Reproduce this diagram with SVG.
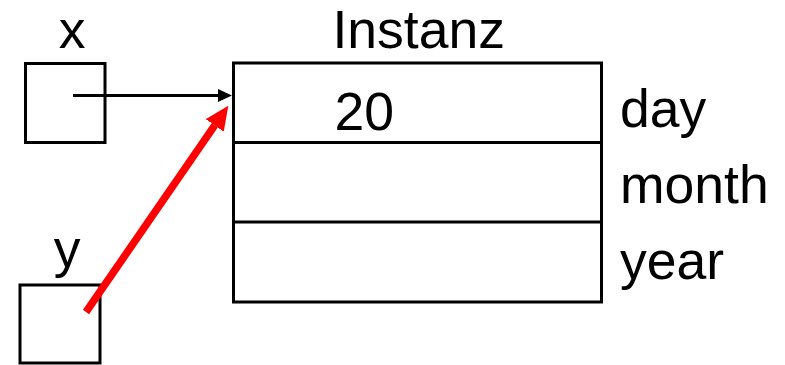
<svg xmlns="http://www.w3.org/2000/svg" width="785" height="365" viewBox="0 0 785 365">
  <style>
    .box { fill: #ffffff; stroke: #000000; stroke-width: 3; }
    .lbl { font-family: "Liberation Sans", Arial, sans-serif; font-size: 53.5px; fill: #000000; }
  </style>
  <defs>
    <marker id="headBlack" markerUnits="userSpaceOnUse" markerWidth="15" markerHeight="14" refX="0" refY="6.5" orient="auto">
      <path d="M0,0 L14,6.5 L0,13 z" fill="#000000"/>
    </marker>
    <marker id="headRed" markerUnits="userSpaceOnUse" markerWidth="25" markerHeight="23" refX="0" refY="11" orient="auto">
      <path d="M0,0 L24,11 L0,22 z" fill="#ff0000"/>
    </marker>
  </defs>
  <rect width="785" height="365" fill="#ffffff"/>

  <g id="node-x">
    <rect class="box" x="25.5" y="63.5" width="79.5" height="79"/>
    <text class="lbl" x="72" y="48" text-anchor="middle">x</text>
  </g>

  <g id="node-y">
    <rect class="box" x="20" y="285" width="80" height="78"/>
    <text class="lbl" x="67" y="267" text-anchor="middle">y</text>
  </g>

  <g id="node-instanz">
    <rect class="box" x="233.5" y="63" width="368" height="239"/>
    <line x1="233.5" y1="142.5" x2="601.5" y2="142.5" stroke="#000000" stroke-width="3"/>
    <line x1="233.5" y1="222" x2="601.5" y2="222" stroke="#000000" stroke-width="3"/>
    <text class="lbl" x="332.5" y="48">Instanz</text>
    <text class="lbl" x="334.5" y="130">20</text>
    <text class="lbl" x="620" y="127">day</text>
    <text class="lbl" x="620" y="203">month</text>
    <text class="lbl" x="620" y="279">year</text>
  </g>

  <g id="connectors">
    <line x1="73" y1="95.5" x2="218" y2="95.5" stroke="#000000" stroke-width="3" marker-end="url(#headBlack)"/>
    <line x1="86" y1="312" x2="214.7" y2="125.4" stroke="#ff0000" stroke-width="7.5" marker-end="url(#headRed)"/>
  </g>
</svg>
